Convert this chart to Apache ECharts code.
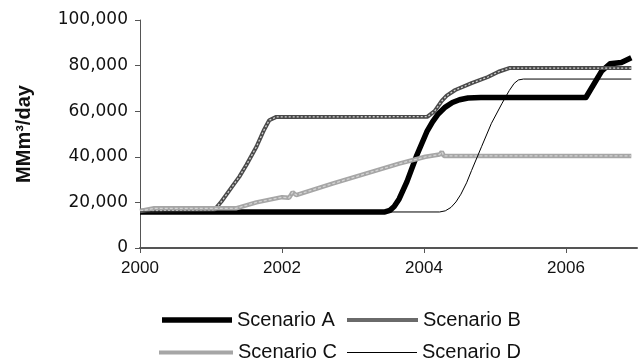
<!DOCTYPE html>
<html>
<head>
<meta charset="utf-8">
<script src="https://cdn.jsdelivr.net/npm/echarts@6/dist/echarts.min.js"></script>
<style>
  html, body { margin: 0; padding: 0; background: #fff; }
  #chart { width: 644px; height: 364px; }
</style>
</head>
<body>
<div id="chart"></div>
<script>
// [year, MMm3/day]
const scenarioA = [
  [2000, 15800], [2003.45, 15800], [2003.52, 16500], [2003.58, 18200], [2003.65, 21500],
  [2003.76, 29100], [2003.9, 40800], [2004.04, 51000], [2004.12, 55300], [2004.2, 58800],
  [2004.3, 61800], [2004.4, 63800], [2004.5, 65000], [2004.62, 65800], [2004.8, 66000],
  [2006.28, 66000], [2006.5, 77500], [2006.62, 80800], [2006.78, 81400], [2006.92, 83400]
]
const scenarioB = [
  [2000, 16300], [2001.05, 16800], [2001.15, 20500], [2001.3, 27000], [2001.4, 31300],
  [2001.5, 36500], [2001.64, 44400], [2001.75, 52000], [2001.82, 56000], [2001.92, 57500],
  [2004.05, 57600], [2004.15, 60000], [2004.25, 64500], [2004.32, 66800], [2004.44, 69300],
  [2004.67, 72300], [2004.9, 75000], [2005.05, 77300], [2005.2, 78900], [2006.92, 78900]
]
const scenarioC = [
  [2000, 16200], [2000.2, 17400], [2001.35, 17400], [2001.64, 20000], [2002.0, 22300],
  [2002.1, 22000], [2002.15, 24500], [2002.2, 23200], [2002.71, 28200], [2003.18, 32600],
  [2003.65, 37000], [2004.02, 40000], [2004.22, 41000], [2004.25, 42200], [2004.28, 40400],
  [2006.92, 40400]
]
const scenarioD = [
  [2000, 15800], [2004.22, 15800], [2004.3, 16300], [2004.38, 17800], [2004.45, 20200],
  [2004.52, 23600], [2004.6, 28600], [2004.67, 34000], [2004.81, 44400], [2004.95, 54700],
  [2005.1, 63500], [2005.2, 69000], [2005.27, 72200], [2005.33, 73700], [2005.4, 74100],
  [2006.92, 74100]
]
const xTicks = [2000, 2002, 2004, 2006]

const chart = echarts.init(document.getElementById('chart'))
const font = 'Liberation Sans, Arial, sans-serif'

// one legend per entry so every key gets its own stroke thickness
function legendItem(name, left, top, width, thick, color, textPad) {
  return {
    data: [name],
    left: left,
    top: top,
    padding: 0,
    icon: 'rect',
    itemWidth: width,
    itemHeight: thick,
    itemStyle: { color: color },
    textStyle: {
      fontSize: 20,
      lineHeight: 20,
      color: '#111',
      fontFamily: font,
      padding: textPad
    }
  }
}

const option = {
  animation: false,
  backgroundColor: '#fff',
  grid: {
    left: 140,
    right: 7,
    top: 20,
    bottom: 116,
    containLabel: false,
    outerBoundsMode: 'none'
  },
  legend: [
    legendItem('Scenario A', 162, 305.5, 70, 5.5, '#000', [0, 0, 9, 0]),
    legendItem('Scenario B', 347, 305.5, 71, 4, '#6a6a6a', [0, 0, 9, 0]),
    legendItem('Scenario C', 159, 339.5, 74, 4, '#a6a6a6', [6, 0, 0, 0]),
    legendItem('Scenario D', 347, 339.5, 70, 1, '#000', [6, 0, 0, 0])
  ],
  xAxis: {
    type: 'value',
    min: 2000,
    max: 2007,
    interval: 1,
    splitLine: { show: false },
    axisLine: { lineStyle: { color: '#555', width: 2 } },
    axisTick: { customValues: xTicks, length: 5, lineStyle: { color: '#555' } },
    axisLabel: {
      customValues: xTicks,
      formatter: v => String(v),
      margin: 12,
      fontSize: 17,
      color: '#111',
      fontFamily: font
    }
  },
  yAxis: {
    type: 'value',
    min: 0,
    max: 100000,
    interval: 20000,
    name: 'MMm³/day',
    nameLocation: 'middle',
    nameGap: 106,
    nameTextStyle: { fontSize: 20, fontWeight: 'bold', color: '#111', fontFamily: font },
    splitLine: { show: false },
    axisLine: { show: true, lineStyle: { color: '#555', width: 1 } },
    axisTick: { show: true, length: 5, lineStyle: { color: '#555' } },
    axisLabel: {
      formatter: v => v.toLocaleString('en-US'),
      margin: 12,
      fontSize: 17,
      color: '#111',
      fontFamily: 'DejaVu Sans, sans-serif'
    }
  },
  series: [
    {
      name: 'Scenario A',
      type: 'line',
      data: scenarioA,
      symbol: 'none',
      lineStyle: { color: '#000', width: 5.5, join: 'round' },
      itemStyle: { color: '#000' }
    },
    {
      name: 'Scenario B',
      type: 'line',
      data: scenarioB,
      symbol: 'none',
      lineStyle: { color: '#4a4a4a', width: 4 },
      itemStyle: { color: '#4a4a4a' }
    },
    {
      // dotted texture on top of B
      name: 'B dots',
      type: 'line',
      data: scenarioB,
      symbol: 'none',
      silent: true,
      lineStyle: { color: '#d0d0d0', width: 1.3, type: [2, 2] }
    },
    {
      name: 'Scenario C',
      type: 'line',
      data: scenarioC,
      symbol: 'none',
      lineStyle: { color: '#a6a6a6', width: 4.5 },
      itemStyle: { color: '#a6a6a6' }
    },
    {
      name: 'C dots',
      type: 'line',
      data: scenarioC,
      symbol: 'none',
      silent: true,
      lineStyle: { color: '#d4d4d4', width: 1.3, type: [3, 2] }
    },
    {
      name: 'Scenario D',
      type: 'line',
      data: scenarioD,
      symbol: 'none',
      lineStyle: { color: '#000', width: 1 },
      itemStyle: { color: '#000' }
    }
  ]
}
chart.setOption(option)
</script>
</body>
</html>
